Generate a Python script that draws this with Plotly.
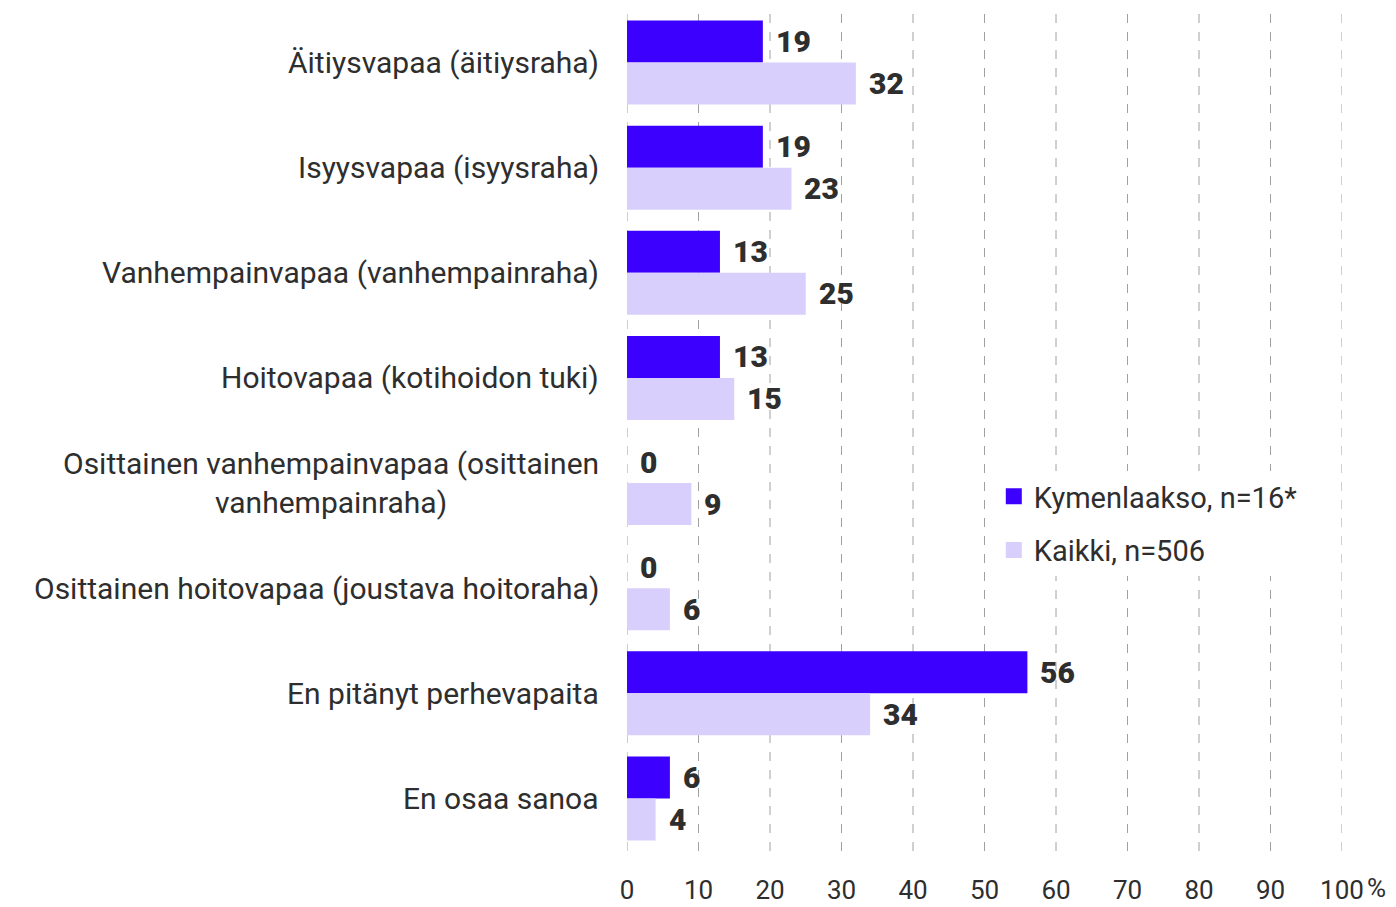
import plotly.graph_objects as go

categories = [
    "Äitiysvapaa (äitiysraha)",
    "Isyysvapaa (isyysraha)",
    "Vanhempainvapaa (vanhempainraha)",
    "Hoitovapaa (kotihoidon tuki)",
    "Osittainen vanhempainvapaa (osittainen<br>vanhempainraha)",
    "Osittainen hoitovapaa (joustava hoitoraha)",
    "En pitänyt perhevapaita",
    "En osaa sanoa",
]
kymenlaakso = [19, 19, 13, 13, 0, 0, 56, 6]
kaikki = [32, 23, 25, 15, 9, 6, 34, 4]
series_names = ["Kymenlaakso, n=16*", "Kaikki, n=506"]
x_ticks = [0, 10, 20, 30, 40, 50, 60, 70, 80, 90, 100]

DARK = "#3c00ff"
LIGHT = "#d8cffc"
TEXT = "#2e2e2e"
GRID = "#a0a0a0"
FONT = "Roboto"

fig = go.Figure()
for vals, name, color in ((kymenlaakso, series_names[0], DARK),
                          (kaikki, series_names[1], LIGHT)):
    fig.add_trace(go.Bar(
        y=categories, x=vals, orientation="h", name=name,
        marker=dict(color=color, line=dict(width=0)), showlegend=False,
    ))

# legend entries with larger square swatches
for i, (name, color) in enumerate(zip(series_names, (DARK, LIGHT))):
    fig.add_trace(go.Scatter(
        x=[None], y=[None], mode="markers", name=name, legendgroup=f"g{i}",
        marker=dict(symbol="square", size=17, color=color),
    ))

# dashed vertical grid at every tick, including both ends of the axis
shapes = [
    dict(type="line", xref="x", yref="paper", x0=t, x1=t, y0=0, y1=1,
         layer="below", line=dict(color=GRID, width=1, dash="dash"))
    for t in x_ticks
]

annotations = []
# value labels next to each bar end
for i, cat in enumerate(categories):
    for vals, off in ((kymenlaakso, -0.2), (kaikki, 0.2)):
        annotations.append(dict(
            x=vals[i], y=i + off, xref="x", yref="y", text=str(vals[i]),
            xanchor="left", yanchor="middle", xshift=11, showarrow=False,
            font=dict(family=FONT, size=30, color=TEXT, weight=900),
        ))
    # category labels: lines centred, block right-aligned to the axis
    annotations.append(dict(
        x=0, y=i, xref="paper", yref="y", text=cat, xanchor="right",
        yanchor="middle", align="center", xshift=-26, showarrow=False,
        font=dict(family=FONT, size=30, color=TEXT),
    ))
annotations.append(dict(
    x=100, y=0, xref="x", yref="paper", text="%", xanchor="left",
    yanchor="middle", xshift=23, yshift=-37, showarrow=False,
    font=dict(family=FONT, size=26, color=TEXT),
))

fig.update_layout(
    width=1396, height=907,
    margin=dict(l=627, r=54, t=10, b=56, autoexpand=False),
    paper_bgcolor="white", plot_bgcolor="white",
    barmode="group", bargap=0.2, bargroupgap=0,
    showlegend=True,
    legend=dict(
        x=0.513, y=0.452, xanchor="left", yanchor="top",
        bgcolor="white", font=dict(family=FONT, size=29, color=TEXT),
        tracegroupgap=13, itemwidth=30,
    ),
    shapes=shapes,
    annotations=annotations,
    xaxis=dict(
        range=[0, 100], tickvals=x_ticks,
        ticktext=[str(v) for v in x_ticks],
        showgrid=False, zeroline=False, showline=False, ticks="",
        automargin=False,
        tickfont=dict(family=FONT, size=26, color=TEXT),
        ticklabelstandoff=21,
    ),
    yaxis=dict(
        type="category", autorange="reversed", showticklabels=False,
        showgrid=False, zeroline=False, showline=False, ticks="",
        automargin=False,
    ),
)

fig.write_html("out.html")
